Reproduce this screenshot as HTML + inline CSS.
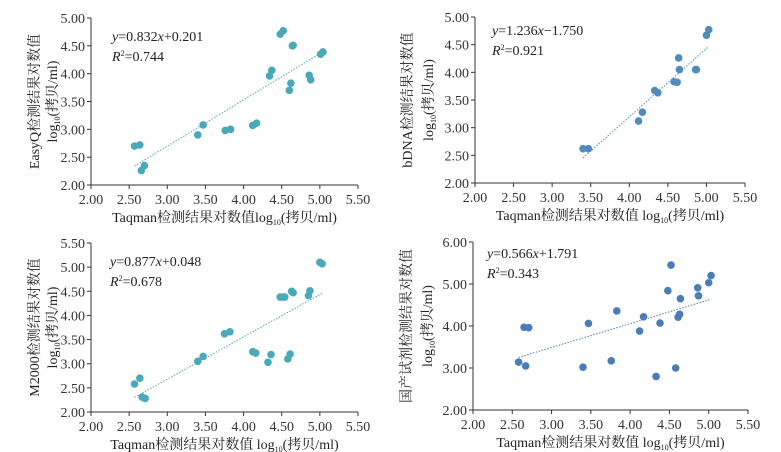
<!DOCTYPE html>
<html><head><meta charset="utf-8"><style>
html,body{margin:0;padding:0;background:#fff;}
svg{display:block;font-family:"Liberation Serif","Noto Serif CJK SC",serif;}
</style></head><body>
<svg id="c" width="781" height="452" viewBox="0 0 781 452"></svg>
<script>
const xTicks=[2.00,2.50,3.00,3.50,4.00,4.50,5.00,5.50];
const p1x=[2.57,2.64,2.66,2.70,3.40,3.47,3.76,3.83,4.12,4.17,4.34,4.37,4.48,4.52,4.60,4.62,4.64,4.65,4.86,4.88,5.01,5.04];
const p1y=[2.70,2.72,2.26,2.35,2.90,3.08,2.98,3.00,3.07,3.11,3.96,4.06,4.71,4.77,3.70,3.83,4.50,4.51,3.97,3.89,4.35,4.39];
const p2x=[3.40,3.47,4.12,4.17,4.33,4.37,4.58,4.62,4.64,4.65,4.86,4.87,5.00,5.03];
const p2y=[2.62,2.62,3.12,3.28,3.67,3.63,3.83,3.82,4.26,4.05,4.05,4.05,4.67,4.77];
const p3x=[2.57,2.64,2.67,2.71,3.40,3.47,3.75,3.82,4.12,4.16,4.32,4.36,4.48,4.52,4.54,4.58,4.61,4.63,4.65,4.85,4.87,5.00,5.03];
const p3y=[2.58,2.70,2.31,2.28,3.05,3.15,3.62,3.66,3.25,3.22,3.03,3.19,4.38,4.38,4.38,3.10,3.20,4.50,4.47,4.41,4.51,5.10,5.07];
const p4x=[2.58,2.65,2.67,2.71,3.40,3.47,3.76,3.83,4.12,4.17,4.33,4.38,4.48,4.52,4.58,4.61,4.63,4.64,4.86,4.87,5.00,5.03];
const p4y=[3.14,3.97,3.05,3.96,3.02,4.06,3.17,4.36,3.88,4.22,2.80,4.07,4.84,5.45,3.00,4.21,4.28,4.65,4.91,4.72,5.03,5.20];
const slopes=[0.832,1.236,0.877,0.566];
const intercepts=[0.201,-1.750,0.048,1.791];
const r2=["0.744","0.921","0.678","0.343"];
const eqText=["0.832x+0.201","1.236x\u22121.750","0.877x+0.048","0.566x+1.791"];

const NS="http://www.w3.org/2000/svg";
const svg=document.getElementById('c');
function mk(tag,attrs,parent){const e=document.createElementNS(NS,tag);for(const k in attrs)e.setAttribute(k,attrs[k]);(parent||svg).appendChild(e);return e;}

const panels=[
 {xs:p1x,ys:p1y,x0:91,x1:358,yTop:18,yBot:185,ymin:2,ymax:5,yt:[2,2.5,3,3.5,4,4.5,5],col:"#4aa9b9",title:"EasyQ检测结果对数值",xl:"Taqman检测结果对数值log",ex:112,ey:41,lx:34,lx2:52,name:"easyq"},
 {xs:p2x,ys:p2y,x0:475,x1:745,yTop:17,yBot:183,ymin:2,ymax:5,yt:[2,2.5,3,3.5,4,4.5,5],col:"#4f8cbd",title:"bDNA检测结果对数值",xl:"Taqman检测结果对数值 log",ex:492,ey:35,lx:407,lx2:428,name:"bdna"},
 {xs:p3x,ys:p3y,x0:91,x1:358,yTop:243,yBot:412,ymin:2,ymax:5.5,yt:[2,2.5,3,3.5,4,4.5,5,5.5],col:"#4aa9b9",title:"M2000检测结果对数值",xl:"Taqman检测结果对数值 log",ex:110,ey:266,lx:34,lx2:52,name:"m2000"},
 {xs:p4x,ys:p4y,x0:473,x1:748,yTop:242,yBot:410,ymin:2,ymax:6,yt:[2,3,4,5,6],col:"#4a7db8",title:"国产试剂检测结果对数值",xl:"Taqman检测结果对数值 log",ex:487,ey:258,lx:406,lx2:427,name:"domestic"}
];

panels.forEach((p,i)=>{
 const g=mk('g',{});
 
 
 const X=v=>p.x0+(v-2)/(5.5-2)*(p.x1-p.x0);
 const Y=v=>p.yBot-(v-p.ymin)/(p.ymax-p.ymin)*(p.yBot-p.yTop);
 const ax=mk('line',{x1:p.x0,y1:p.yBot,x2:p.x1,y2:p.yBot,stroke:"#333","stroke-width":1},g);
 
 
 const ay=mk('line',{x1:p.x0,y1:p.yTop,x2:p.x0,y2:p.yBot,stroke:"#333","stroke-width":1},g);
 
 
 xTicks.forEach(t=>{
  mk('line',{x1:X(t),y1:p.yBot,x2:X(t),y2:p.yBot+4,stroke:"#333"},g);
  const tx=mk('text',{x:X(t),y:p.yBot+19,"text-anchor":"middle","font-size":14,fill:"#333"},g);
  tx.textContent=t.toFixed(2);
  
  
 });
 p.yt.forEach(t=>{
  mk('line',{x1:p.x0-4,y1:Y(t),x2:p.x0,y2:Y(t),stroke:"#333"},g);
  const ty=mk('text',{x:p.x0-6,y:Y(t)+5,"text-anchor":"end","font-size":14,fill:"#333"},g);
  ty.textContent=t.toFixed(2);
  
  
 });
 const xmin=Math.min(...p.xs), xmax=Math.max(...p.xs);
 let xa=xmin; if(slopes[i]*xa+intercepts[i]<p.ymin) xa=(p.ymin-intercepts[i])/slopes[i];
 const tl=mk('line',{x1:X(xa),y1:Y(slopes[i]*xa+intercepts[i]),x2:X(xmax),y2:Y(slopes[i]*xmax+intercepts[i]),stroke:p.col,"stroke-width":1,"stroke-dasharray":"1.5,1.5"},g);
 
 
 p.xs.forEach((v,j)=>{
  const c=mk('circle',{cx:X(v),cy:Y(p.ys[j]),r:3.8,fill:p.col},g);
  
  
 });
 const eq=mk('text',{x:p.ex,y:p.ey,"font-size":14,fill:"#222"},g);
 eq.innerHTML='<tspan font-style="italic">y</tspan>='+eqText[i].replace('x','<tspan font-style="italic">x</tspan>');
 
 
 const rr=mk('text',{x:p.ex,y:p.ey+20,"font-size":14,fill:"#222"},g);
 rr.innerHTML='<tspan font-style="italic">R</tspan><tspan font-size="8" dy="-5">2</tspan><tspan dy="5">='+r2[i]+'</tspan>';
 
 
 const xt=mk('text',{x:(p.x0+p.x1)/2,y:p.yBot+37,"text-anchor":"middle","font-size":14,fill:"#222"},g);
 xt.innerHTML=p.xl+'<tspan font-size="8" dy="3">10</tspan><tspan dy="-3">(拷贝/ml)</tspan>';
 
 
 const cy=(p.yTop+p.yBot)/2;
 const yt1=mk('text',{x:0,y:0,"text-anchor":"middle","font-size":14,fill:"#222",transform:`translate(${p.lx+5},${cy}) rotate(-90)`},g);
 yt1.textContent=p.title;
 
 
 const yt2=mk('text',{x:0,y:0,"text-anchor":"middle","font-size":14,fill:"#222",transform:`translate(${p.lx2+5},${cy}) rotate(-90)`},g);
 yt2.innerHTML='log<tspan font-size="8" dy="3">10</tspan><tspan dy="-3">(拷贝/ml)</tspan>';
 
 
});
</script>
</body></html>
